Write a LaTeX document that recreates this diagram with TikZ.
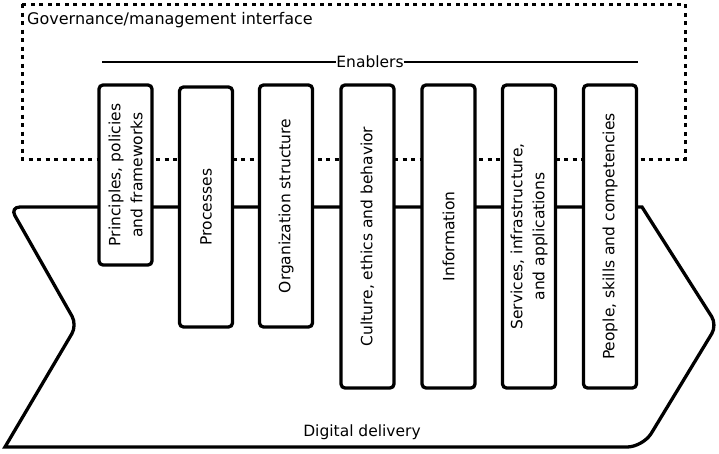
\documentclass[tikz,border=0pt]{standalone}
\usepackage{fontspec}
\setmainfont{DejaVu Sans}
\begin{document}
\begin{tikzpicture}[
    x=1pt, y=-1pt,
    enabler/.style={draw, fill=white, line width=3.3pt, rounded corners=4pt, rotate=90, minimum height=53pt, align=center, font=\fontsize{15.5}{22}\selectfont, inner sep=0pt},
    frame/.style={line width=3pt, dash pattern=on 4pt off 4.5pt},
    delivery/.style={draw, fill=white, line width=3.3pt},
    label/.style={font=\fontsize{15.5}{18}\selectfont, inner sep=0pt},
    every node/.style={inner sep=2pt}
]
\useasboundingbox (0,0) rectangle (719,453);

% Governance frame
\draw[frame] (22,4) rectangle (685,159);
\node[label, font=\fontsize{16}{18}\selectfont, anchor=west] (gov) at (27,20) {Governance/management interface};

% Enablers line
\node[label] (enablers) at (370,62) {Enablers};
\coordinate (enl) at (102,62);
\coordinate (enr) at (638,62);
\draw[line width=2.2pt] (enl) -- (enablers.west);
\draw[line width=2.2pt] (enablers.east) -- (enr);

% Digital delivery chevron
\draw[delivery] (5,447) [rounded corners=10pt] -- (77,325) -- (10,207) [sharp corners] -- (642,207)
    [rounded corners=10pt] -- (717,325) [rounded corners=16pt] -- (643,447) [sharp corners] -- cycle;
\node[label] (delivery) at (362,432) {Digital delivery};

% Enabler columns
\node[enabler, minimum width=180pt] (principles) at (125.5,175) {Principles, policies\\and frameworks};
\node[enabler, minimum width=240pt] (processes) at (206,207) {Processes};
\node[enabler, minimum width=242pt] (organization) at (286,206) {Organization structure};
\node[enabler, minimum width=303pt] (culture) at (367.5,236.5) {Culture, ethics and behavior};
\node[enabler, minimum width=303pt] (information) at (448.5,236.5) {Information};
\node[enabler, minimum width=303pt] (services) at (529,236.5) {Services, infrastructure,\\and applications};
\node[enabler, minimum width=303pt] (people) at (610,236.5) {People, skills and competencies};

\end{tikzpicture}
\end{document}
